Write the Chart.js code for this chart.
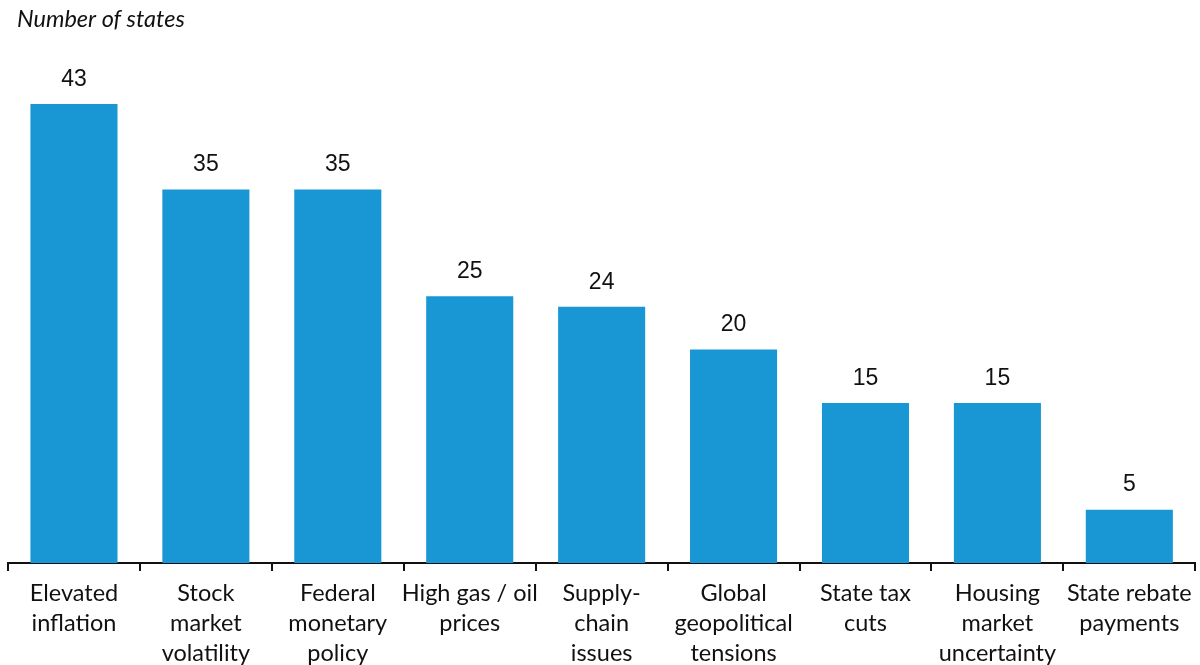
<!DOCTYPE html>
<html>
<head>
<meta charset="utf-8">
<script src="https://cdn.jsdelivr.net/npm/chart.js@4"></script>
<style>
  html, body { margin: 0; padding: 0; background: #fff; }
  #wrap { width: 1200px; height: 665px; position: relative; }
</style>
</head>
<body>
<div id="wrap"><canvas id="graph1"></canvas></div>
<script>
// Factors cited by states
const categories = [
    ['Elevated', 'inflation'],
    ['Stock', 'market', 'volatility'],
    ['Federal', 'monetary', 'policy'],
    ['High gas / oil', 'prices'],
    ['Supply-', 'chain', 'issues'],
    ['Global', 'geopolitical', 'tensions'],
    ['State tax', 'cuts'],
    ['Housing', 'market', 'uncertainty'],
    ['State rebate', 'payments'],
];
const states = [43, 35, 35, 25, 24, 20, 15, 15, 5];
const yTitle = 'Number of states';

const barColor = '#1897d4';

// numbers above each bar + the unit label at the top left
const labelsPlugin = {
    id: 'barLabels',
    afterDatasetsDraw(chart) {
        const ctx = chart.ctx;
        const meta = chart.getDatasetMeta(0);
        ctx.save();
        ctx.fillStyle = '#111';
        ctx.font = '23px "Liberation Sans", Arial, sans-serif';
        ctx.textAlign = 'center';
        ctx.textBaseline = 'bottom';
        meta.data.forEach((bar, i) => {
            ctx.fillText(String(states[i]), bar.x, bar.y - 13);
        });
        ctx.font = 'italic 23.5px Lato, sans-serif';
        ctx.textAlign = 'left';
        ctx.textBaseline = 'middle';
        ctx.fillText(yTitle, 17, 19);
        ctx.restore();
    }
};

const config = {
    type: 'bar',
    data: {
        labels: categories,
        datasets: [{
            data: states,
            backgroundColor: barColor,
            borderWidth: 0,
            categoryPercentage: 1,
            barPercentage: 0.66,
        }]
    },
    options: {
        responsive: true,
        maintainAspectRatio: false,
        animation: false,
        layout: {
            autoPadding: false,
            padding: { top: 40, left: 8, right: 4, bottom: 0 }
        },
        scales: {
            y: {
                display: false,
                min: 0,
                max: 49,
            },
            x: {
                afterFit(scale) { scale.height = 102; },
                border: { display: true, color: '#111', width: 2 },
                grid: {
                    display: true,
                    drawOnChartArea: false,
                    drawTicks: true,
                    tickLength: 8,
                    color: '#111',
                    lineWidth: 2,
                    offset: true,
                },
                ticks: {
                    color: '#111',
                    padding: 8,
                    maxRotation: 0,
                    autoSkip: false,
                    font: { family: 'Lato', size: 23.5, lineHeight: 1.26 }
                }
            }
        },
        plugins: {
            legend: { display: false },
            tooltip: { enabled: false }
        }
    },
    plugins: [labelsPlugin]
};

const chart = new Chart(document.getElementById('graph1'), config);
</script>
</body>
</html>
